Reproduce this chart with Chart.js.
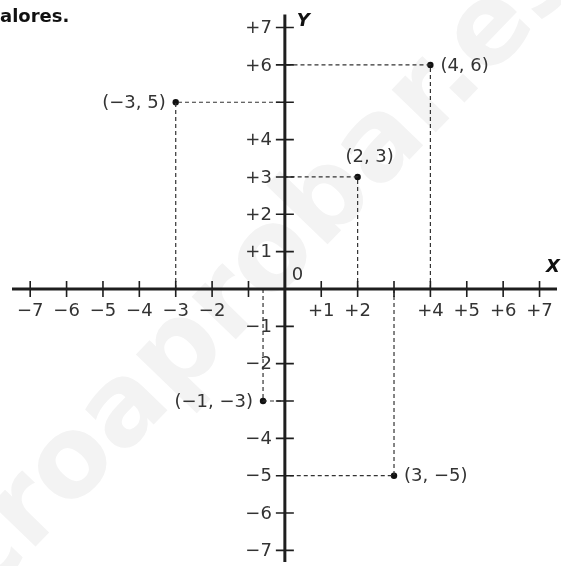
<!DOCTYPE html>
<html lang="es">
<head>
    <meta charset="UTF-8">
    <title>Puntos en el plano cartesiano</title>
    <style>
        body {
            margin: 0;
            background-color: #fff;
        }
        .lienzo {
            position: relative;
            width: 561px;
            height: 566px;
        }
    </style>
    <script src="https://cdn.jsdelivr.net/npm/chart.js"></script>
</head>
<body>
    <div class="lienzo">
        <canvas id="plano"></canvas>
    </div>

    <script>
        // Datos: coordenadas de los puntos (tal como están dibujados) y sus rótulos
        const puntosX = [-3, 2, 4, -0.6, 3];
        const puntosY = [5, 3, 6, -3, -5];
        const rotulosPuntos = ['(−3, 5)', '(2, 3)', '(4, 6)', '(−1, −3)', '(3, −5)'];

        // Marcas de los ejes y sus etiquetas ('' = sin etiqueta)
        const marcasX = [-7, -6, -5, -4, -3, -2, -1, 1, 2, 3, 4, 5, 6, 7];
        const etiquetasX = ['−7', '−6', '−5', '−4', '−3', '−2', '', '+1', '+2', '', '+4', '+5', '+6', '+7'];
        const marcasY = [7, 6, 5, 4, 3, 2, 1, -1, -2, -3, -4, -5, -6, -7];
        const etiquetasY = ['+7', '+6', '', '+4', '+3', '+2', '+1', '−1', '−2', '', '−4', '−5', '−6', '−7'];

        // Posición del rótulo respecto a su punto
        const ladoRotulo = ['izq', 'arriba', 'der', 'izq', 'der'];

        const FUENTE = '18px "DejaVu Sans"';
        const COLOR_TEXTO = '#333';
        const COLOR_EJE = '#1e1e1e';

        // Líneas discontinuas desde cada punto hasta los ejes
        const guias = puntosX.map((x, i) => ({
            data: [{ x: x, y: 0 }, { x: x, y: puntosY[i] }, { x: 0, y: puntosY[i] }],
            showLine: true,
            borderColor: '#333',
            borderWidth: 1.2,
            borderDash: [4, 3],
            pointRadius: 0,
            fill: false
        }));

        const puntos = {
            data: puntosX.map((x, i) => ({ x: x, y: puntosY[i] })),
            pointRadius: 3.2,
            pointBackgroundColor: '#111',
            pointBorderWidth: 0
        };

        // Plugin: marca de agua, ejes, marcas y textos
        const planoCartesiano = {
            id: 'planoCartesiano',
            beforeDraw(chart) {
                const ctx = chart.ctx;
                ctx.save();
                ctx.translate(-17, 601);
                ctx.rotate(-46 * Math.PI / 180);
                ctx.font = 'bold 112px "DejaVu Sans"';
                ctx.fillStyle = '#f3f3f3';
                ctx.textAlign = 'left';
                ctx.textBaseline = 'alphabetic';
                ctx.fillText('croaprobar.es', 0, 0);
                ctx.restore();
            },
            afterDatasetsDraw(chart) {
                const ctx = chart.ctx;
                const sx = chart.scales.x;
                const sy = chart.scales.y;
                const x0 = sx.getPixelForValue(0);
                const y0 = sy.getPixelForValue(0);
                const area = chart.chartArea;

                ctx.save();
                // ejes
                ctx.strokeStyle = COLOR_EJE;
                ctx.lineWidth = 3;
                ctx.beginPath();
                ctx.moveTo(sx.getPixelForValue(-7.5), y0);
                ctx.lineTo(area.right, y0);
                ctx.moveTo(x0, sy.getPixelForValue(7.35));
                ctx.lineTo(x0, area.bottom);
                ctx.stroke();

                // marcas
                ctx.lineWidth = 1.6;
                ctx.beginPath();
                marcasX.forEach(v => {
                    const p = sx.getPixelForValue(v);
                    ctx.moveTo(p, y0 - 8);
                    ctx.lineTo(p, y0 + 8);
                });
                marcasY.forEach(v => {
                    const p = sy.getPixelForValue(v);
                    ctx.moveTo(x0 - 9, p);
                    ctx.lineTo(x0 + 9, p);
                });
                ctx.stroke();

                // etiquetas de las marcas
                ctx.font = FUENTE;
                ctx.fillStyle = COLOR_TEXTO;
                ctx.textBaseline = 'middle';
                ctx.textAlign = 'center';
                marcasX.forEach((v, i) => {
                    ctx.fillText(etiquetasX[i], sx.getPixelForValue(v), y0 + 22);
                });
                ctx.textAlign = 'right';
                marcasY.forEach((v, i) => {
                    ctx.fillText(etiquetasY[i], x0 - 13, sy.getPixelForValue(v) + 1);
                });
                ctx.textAlign = 'left';
                ctx.fillText('0', x0 + 7, y0 - 14);

                // rótulos de los puntos
                puntosX.forEach((x, i) => {
                    const px = sx.getPixelForValue(x);
                    const py = sy.getPixelForValue(puntosY[i]);
                    if (ladoRotulo[i] === 'izq') {
                        ctx.textAlign = 'right';
                        ctx.fillText(rotulosPuntos[i], px - 10, py + 1);
                    } else if (ladoRotulo[i] === 'der') {
                        ctx.textAlign = 'left';
                        ctx.fillText(rotulosPuntos[i], px + 10, py + 1);
                    } else {
                        ctx.textAlign = 'center';
                        ctx.fillText(rotulosPuntos[i], px + 12, py - 20);
                    }
                });

                // nombres de los ejes
                ctx.font = 'italic bold 18px "DejaVu Sans"';
                ctx.fillStyle = '#111';
                ctx.textAlign = 'left';
                ctx.fillText('X', area.right - 11, y0 - 22);
                ctx.fillText('Y', x0 + 12, sy.getPixelForValue(7) - 6);

                // texto cortado de la cabecera
                ctx.font = 'bold 18px "DejaVu Sans"';
                ctx.fillText('alores.', 0, 17);
                ctx.restore();
            }
        };

        new Chart(document.getElementById('plano'), {
            type: 'scatter',
            data: {
                datasets: [...guias, puntos]
            },
            options: {
                responsive: true,
                maintainAspectRatio: false,
                animation: false,
                layout: { padding: 0 },
                plugins: {
                    legend: { display: false },
                    tooltip: { enabled: false }
                },
                scales: {
                    x: { type: 'linear', min: -7.72, max: 7.48, display: false },
                    y: { type: 'linear', min: -7.31, max: 7.63, display: false }
                }
            },
            plugins: [planoCartesiano]
        });
    </script>
</body>
</html>
